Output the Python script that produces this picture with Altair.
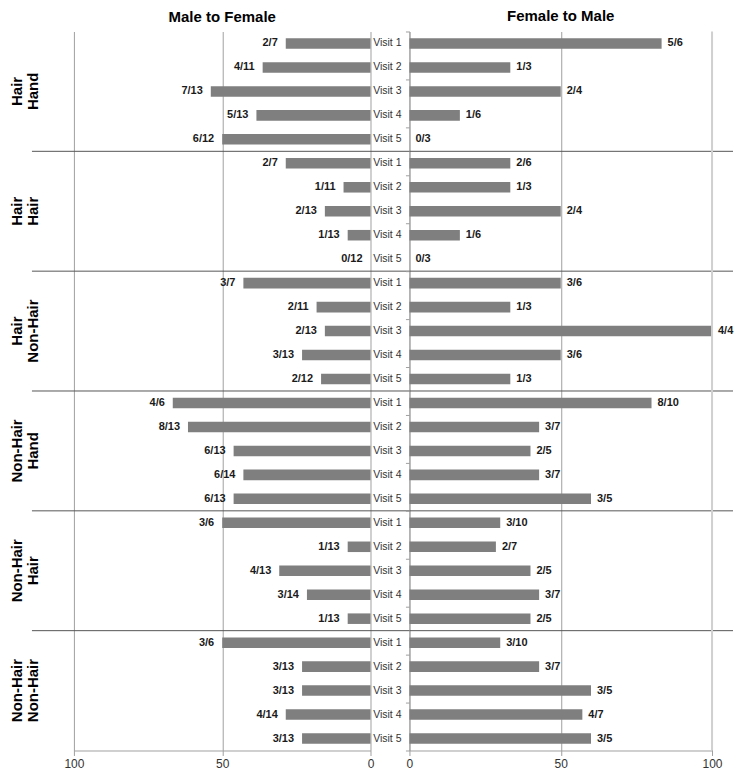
import altair as alt
import pandas as pd

groups = ["Hair\nHand", "Hair\nHair", "Hair\nNon-Hair",
          "Non-Hair\nHand", "Non-Hair\nHair", "Non-Hair\nNon-Hair"]
visits = ["Visit 1", "Visit 2", "Visit 3", "Visit 4", "Visit 5"]

mtf_num = [[2, 4, 7, 5, 6], [2, 1, 2, 1, 0], [3, 2, 2, 3, 2],
           [4, 8, 6, 6, 6], [3, 1, 4, 3, 1], [3, 3, 3, 4, 3]]
mtf_den = [[7, 11, 13, 13, 12], [7, 11, 13, 13, 12], [7, 11, 13, 13, 12],
           [6, 13, 13, 14, 13], [6, 13, 13, 14, 13], [6, 13, 13, 14, 13]]
ftm_num = [[5, 1, 2, 1, 0], [2, 1, 2, 1, 0], [3, 1, 4, 3, 1],
           [8, 3, 2, 3, 3], [3, 2, 2, 3, 2], [3, 3, 3, 4, 3]]
ftm_den = [[6, 3, 4, 6, 3], [6, 3, 4, 6, 3], [6, 3, 4, 6, 3],
           [10, 7, 5, 7, 5], [10, 7, 5, 7, 5], [10, 7, 5, 7, 5]]

axis_ticks = [0, 50, 100]


def make_df(num, den):
    rows = []
    for g in range(len(groups)):
        for v in range(len(visits)):
            n, d = num[g][v], den[g][v]
            rows.append({"row": g * 5 + v, "pct": n / d * 100,
                         "lab": f"{n}/{d}", "visit": visits[v]})
    return pd.DataFrame(rows)


mtf = make_df(mtf_num, mtf_den)
ftm = make_df(ftm_num, ftm_den)
gdf = pd.DataFrame({"name": groups, "g": list(range(len(groups)))})
sep = pd.DataFrame({"b": [5, 10, 15, 20, 25]})
edge = pd.DataFrame({"e": [100]})

W_L, W_R, H, GAP = 297, 303, 720, 39
FONT = "Liberation Sans"
BAR = "#7f7f7f"
GRID = "#a0a0a0"
SEP = "#555555"

yscale = alt.Scale(domain=[0, 30], reverse=True, nice=False, zero=False)


def xaxis():
    return alt.Axis(values=axis_ticks, grid=True, gridColor=GRID, domainColor=GRID,
                    tickColor=GRID, tickSize=5, labelFontSize=12, labelColor="#333333",
                    labelFlush=False, labelPadding=3, title=None, format="d")


def panel(df, reverse, width, title, left):
    xs = alt.Scale(domain=[0, 100], reverse=reverse, nice=False)
    base = alt.Chart(df).transform_calculate(
        zero="0", y0="datum.row + 0.28", y1="datum.row + 0.72", ym="datum.row + 0.5")
    if left:
        yax = None
    else:
        yax = alt.Axis(values=list(range(0, 31)), labels=False, tickSize=4,
                       domainColor=GRID, tickColor=GRID, grid=False, title=None)
    bars = base.mark_rect(color=BAR).encode(
        x=alt.X("zero:Q", scale=xs, axis=xaxis()),
        x2="pct:Q",
        y=alt.Y("y0:Q", scale=yscale, axis=yax),
        y2="y1:Q",
    )
    labels = base.mark_text(
        align="right" if left else "left", dx=-8 if left else 6, baseline="middle",
        fontSize=11, fontWeight="bold", color="#1a1a1a", font=FONT,
    ).encode(x=alt.X("pct:Q", scale=xs), y=alt.Y("ym:Q", scale=yscale), text="lab:N")
    rules = alt.Chart(sep).mark_rule(color=SEP, strokeWidth=1).encode(
        y=alt.Y("b:Q", scale=yscale),
        x=alt.value(-42 if left else 0),
        x2=alt.value(width + GAP if left else width + 21),
    )
    layers = [bars, labels, rules]
    if left:
        gl = alt.Chart(gdf).transform_calculate(gy="datum.g * 5 + 2.5").mark_text(
            angle=270, align="center", baseline="top", fontSize=15, fontWeight="bold",
            lineBreak="\n", lineHeight=16, color="#000000", font=FONT,
        ).encode(x=alt.value(-64), y=alt.Y("gy:Q", scale=yscale), text="name:N")
        layers.append(gl)
    else:
        vl = base.mark_text(
            align="right", baseline="middle", fontSize=10.5, color="#333333", font=FONT,
        ).encode(x=alt.value(-8), y=alt.Y("ym:Q", scale=yscale), text="visit:N")
        er = alt.Chart(edge).mark_rule(color="#d0d0d0", strokeWidth=2).encode(
            x=alt.X("e:Q", scale=xs), y=alt.value(0), y2=alt.value(H))
        layers += [vl, er]
    return alt.layer(*layers).properties(
        width=width, height=H,
        title=alt.Title(title, fontSize=15, fontWeight="bold", font=FONT,
                        anchor="middle", offset=7, color="#000000"),
    )


left = panel(mtf, True, W_L, "Male to Female", True)
right = panel(ftm, False, W_R, "Female to Male", False)

chart = alt.hconcat(left, right, spacing=GAP, bounds="flush").properties(
    padding={"left": 2, "top": 0, "right": 0, "bottom": 0},
).configure(font=FONT).configure_view(stroke=None)

chart.save("out.html", embed_options={"renderer": "svg", "actions": False})
